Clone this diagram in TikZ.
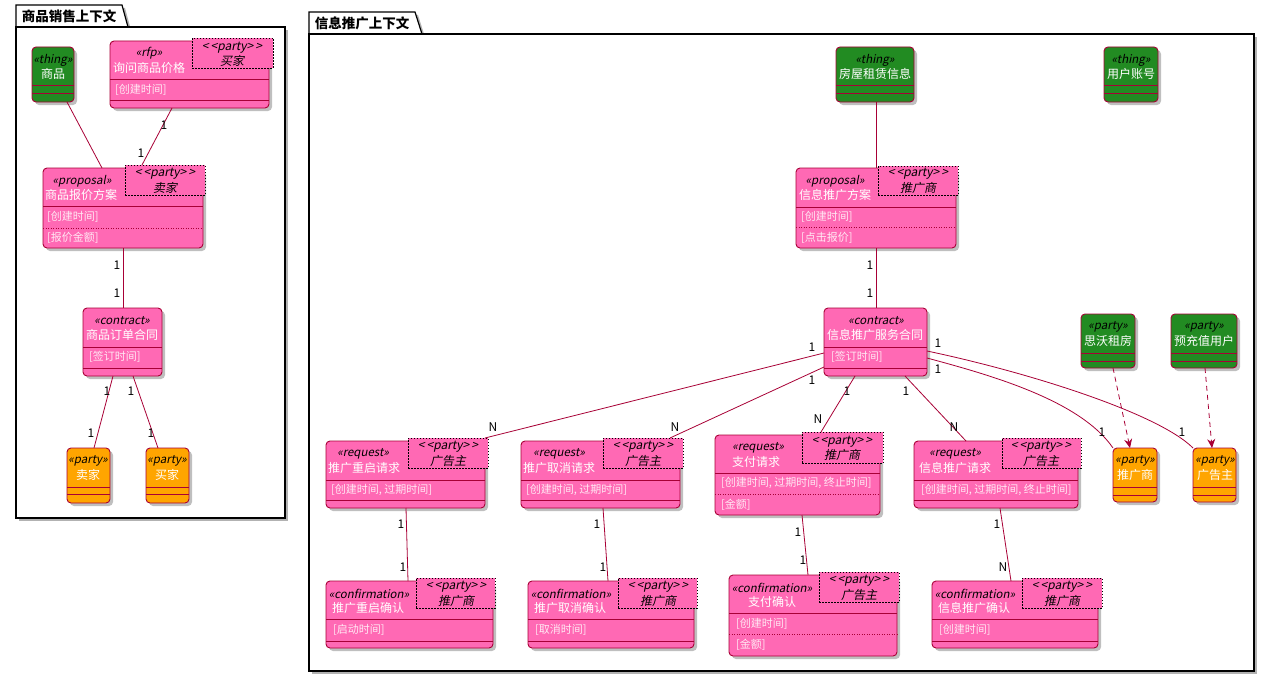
\documentclass[tikz,border=0pt]{standalone}
\usepackage{fontspec}
\setmainfont{Noto Sans CJK SC}[ItalicFont={Noto Sans CJK SC},ItalicFeatures={FakeSlant=0.2}]
\usepackage{tikz}
\usetikzlibrary{shadows,arrows.meta}
\definecolor{umlred}{HTML}{A80036}
\definecolor{umlpink}{HTML}{FF69B4}
\definecolor{umlgreen}{HTML}{228B22}
\definecolor{umlorange}{HTML}{FFA500}
\newcommand\compline[2]{\draw[umlred,line width=0.8pt] ([yshift=-#2pt]#1.north west) -- ([yshift=-#2pt]#1.north east);}
\newcommand\dotline[2]{\draw[umlred,line width=0.5pt,dash pattern=on 1pt off 1.5pt] ([yshift=-#2pt]#1.north west) -- ([yshift=-#2pt]#1.north east);}
\newcommand\partytag{<\,<party>\,>}

\begin{document}
\begin{tikzpicture}[x=1pt,y=-1pt,
	cls/.style={draw=umlred,line width=0.9pt,rounded corners=4pt,anchor=north west,inner sep=0pt,outer sep=0pt,
		drop shadow={shadow xshift=3pt,shadow yshift=-3pt,fill=black,opacity=0.25}},
	pinkcls/.style={cls,fill=umlpink},
	greencls/.style={cls,fill=umlgreen},
	orangecls/.style={cls,fill=umlorange},
	tagbox/.style={draw=black,line width=0.6pt,dash pattern=on 1.5pt off 1.5pt,fill=umlpink,anchor=north west,inner sep=0pt,outer sep=0pt},
	stereo/.style={inner sep=0pt,font=\fontsize{11.5}{13}\selectfont\itshape},
	cname/.style={inner sep=0pt,text=white,font=\fontsize{12}{14}\selectfont},
	attr/.style={inner sep=0pt,anchor=west,text=white!85!umlpink,font=\fontsize{11}{12}\selectfont},
	tagtxt/.style={inner sep=0pt,font=\fontsize{12}{13}\selectfont\itshape},
	mult/.style={inner sep=0pt,font=\fontsize{12}{14}\selectfont},
	link/.style={draw=umlred,line width=0.8pt},
	dep/.style={link,dash pattern=on 5pt off 4pt,-{Stealth[length=9pt,width=8pt,inset=3pt]}},
	pkgline/.style={draw=black,line width=1.2pt,fill=white,drop shadow={shadow xshift=3pt,shadow yshift=-3pt,fill=black,opacity=0.3}},
	pkgtitle/.style={inner sep=0pt,font=\fontsize{13.5}{15}\selectfont\bfseries}]
	\useasboundingbox (0,0) rectangle (1268,677);

	% packages
	\draw[pkgline] (16,27) -- (16,5) -- (122,5) -- (128,27) -- cycle;
	\draw[pkgline] (16,27) rectangle (285,518);
	\node[pkgtitle] (salectx) at (69,16) {商品销售上下文};
	\draw[pkgline] (309,34) -- (309,12) -- (415,12) -- (422,34) -- cycle;
	\draw[pkgline] (309,34) rectangle (1254,671);
	\node[pkgtitle] (adctx) at (362,23) {信息推广上下文};

	% 商品销售上下文
	\node[greencls,minimum width=42pt,minimum height=55pt] (goods) at (32,47) {};
	\compline{goods}{38} \compline{goods}{46}
	\node[stereo] (goods-s) at (53,60) {«thing»};
	\node[cname] (goods-n) at (53,74) {商品};

	\node[pinkcls,minimum width=159pt,minimum height=67pt] (rfp) at (110,41) {};
	\compline{rfp}{38} \compline{rfp}{59}
	\node[tagbox,minimum width=81pt,minimum height=30pt] (rfp-t) at (192,38) {};
	\node[tagtxt] (rfp-t1) at (232,48) {\partytag};
	\node[tagtxt] (rfp-t2) at (232,61) {买家};
	\node[stereo] (rfp-s) at (149,53) {«rfp»};
	\node[cname] (rfp-n) at (149,68) {询问商品价格};
	\node[attr] (rfp-a) at (115,90) {[创建时间]};

	\node[pinkcls,minimum width=160pt,minimum height=80pt] (lprop) at (43,168) {};
	\compline{lprop}{38} \dotline{lprop}{60}
	\node[tagbox,minimum width=80pt,minimum height=30pt] (lprop-t) at (125,165) {};
	\node[tagtxt] (lprop-t1) at (165,174) {\partytag};
	\node[tagtxt] (lprop-t2) at (165,188) {卖家};
	\node[stereo] (lprop-s) at (82,181) {«proposal»};
	\node[cname] (lprop-n) at (81,195) {商品报价方案};
	\node[attr] (lprop-a) at (47,217) {[创建时间]};
	\node[attr] (lprop-b) at (47,238) {[报价金额]};

	\node[pinkcls,minimum width=79pt,minimum height=68pt] (lcon) at (83,308) {};
	\compline{lcon}{39} \compline{lcon}{60}
	\node[stereo] (lcon-s) at (122,321) {«contract»};
	\node[cname] (lcon-n) at (122,335) {商品订单合同};
	\node[attr] (lcon-a) at (89,357) {[签订时间]};

	\node[orangecls,minimum width=43pt,minimum height=55pt] (seller) at (67,448) {};
	\compline{seller}{39} \compline{seller}{46}
	\node[stereo] (seller-s) at (88,461) {«party»};
	\node[cname] (seller-n) at (88,475) {卖家};

	\node[orangecls,minimum width=43pt,minimum height=55pt] (buyer) at (146,448) {};
	\compline{buyer}{39} \compline{buyer}{46}
	\node[stereo] (buyer-s) at (167,461) {«party»};
	\node[cname] (buyer-n) at (167,475) {买家};

	\draw[link] ([xshift=35pt]goods.south west) -- ([xshift=59pt]lprop.north west);
	\draw[link] ([xshift=62pt]rfp.south west) -- ([xshift=17pt]lprop-t.north west);
	\node[mult] (m1) at (164,125) {1};
	\node[mult] (m2) at (141,153) {1};
	\draw[link] ([xshift=80pt]lprop.south west) -- ([xshift=40pt]lcon.north west);
	\node[mult] (m3) at (117,265) {1};
	\node[mult] (m4) at (117,293) {1};
	\draw[link] ([xshift=30pt]lcon.south west) -- ([xshift=27pt]seller.north west);
	\node[mult] (m5) at (107,391) {1};
	\node[mult] (m6) at (91,433) {1};
	\draw[link] ([xshift=50pt]lcon.south west) -- ([xshift=12pt]buyer.north west);
	\node[mult] (m7) at (131,391) {1};
	\node[mult] (m8) at (151,433) {1};

	% 信息推广上下文
	\node[greencls,minimum width=78pt,minimum height=55pt] (house) at (836,47) {};
	\compline{house}{38} \compline{house}{46}
	\node[stereo] (house-s) at (875,60) {«thing»};
	\node[cname] (house-n) at (875,74) {房屋租赁信息};

	\node[greencls,minimum width=54pt,minimum height=55pt] (account) at (1104,47) {};
	\compline{account}{38} \compline{account}{46}
	\node[stereo] (account-s) at (1131,60) {«thing»};
	\node[cname] (account-n) at (1131,74) {用户账号};

	\node[pinkcls,minimum width=160pt,minimum height=80pt] (rprop) at (796,168) {};
	\compline{rprop}{39} \dotline{rprop}{59}
	\node[tagbox,minimum width=80pt,minimum height=29pt] (rprop-t) at (878,166) {};
	\node[tagtxt] (rprop-t1) at (918,174) {\partytag};
	\node[tagtxt] (rprop-t2) at (918,188) {推广商};
	\node[stereo] (rprop-s) at (835,181) {«proposal»};
	\node[cname] (rprop-n) at (835,195) {信息推广方案};
	\node[attr] (rprop-a) at (801,217) {[创建时间]};
	\node[attr] (rprop-b) at (801,238) {[点击报价]};

	\node[pinkcls,minimum width=103pt,minimum height=68pt] (rcon) at (824,308) {};
	\compline{rcon}{39} \compline{rcon}{60}
	\node[stereo] (rcon-s) at (876,321) {«contract»};
	\node[cname] (rcon-n) at (875,335) {信息推广服务合同};
	\node[attr] (rcon-a) at (831,357) {[签订时间]};

	\node[greencls,minimum width=54pt,minimum height=54pt] (swrent) at (1081,314) {};
	\compline{swrent}{39} \compline{swrent}{47}
	\node[stereo] (swrent-s) at (1108,327) {«party»};
	\node[cname] (swrent-n) at (1108,341) {思沃租房};

	\node[greencls,minimum width=66pt,minimum height=54pt] (prepaid) at (1171,314) {};
	\compline{prepaid}{39} \compline{prepaid}{47}
	\node[stereo] (prepaid-s) at (1204,327) {«party»};
	\node[cname] (prepaid-n) at (1204,341) {预充值用户};

	\node[orangecls,minimum width=44pt,minimum height=54pt] (promoter) at (1113,448) {};
	\compline{promoter}{39} \compline{promoter}{47}
	\node[stereo] (promoter-s) at (1135,461) {«party»};
	\node[cname] (promoter-n) at (1135,475) {推广商};

	\node[orangecls,minimum width=43pt,minimum height=54pt] (adver) at (1193,448) {};
	\compline{adver}{39} \compline{adver}{47}
	\node[stereo] (adver-s) at (1215,461) {«party»};
	\node[cname] (adver-n) at (1215,475) {广告主};

	\node[pinkcls,minimum width=159pt,minimum height=67pt] (restartreq) at (326,441) {};
	\compline{restartreq}{39} \compline{restartreq}{59}
	\node[tagbox,minimum width=80pt,minimum height=30pt] (restartreq-t) at (408,438) {};
	\node[tagtxt] (restartreq-t1) at (448,447) {\partytag};
	\node[tagtxt] (restartreq-t2) at (448,461) {广告主};
	\node[stereo] (restartreq-s) at (363,454) {«request»};
	\node[cname] (restartreq-n) at (364,468) {推广重启请求};
	\node[attr] (restartreq-a) at (331,490) {[创建时间, 过期时间]};

	\node[pinkcls,minimum width=159pt,minimum height=67pt] (cancelreq) at (521,441) {};
	\compline{cancelreq}{39} \compline{cancelreq}{59}
	\node[tagbox,minimum width=80pt,minimum height=30pt] (cancelreq-t) at (603,438) {};
	\node[tagtxt] (cancelreq-t1) at (643,447) {\partytag};
	\node[tagtxt] (cancelreq-t2) at (643,461) {广告主};
	\node[stereo] (cancelreq-s) at (559,454) {«request»};
	\node[cname] (cancelreq-n) at (559,468) {推广取消请求};
	\node[attr] (cancelreq-a) at (526,490) {[创建时间, 过期时间]};

	\node[pinkcls,minimum width=165pt,minimum height=80pt] (payreq) at (715,435) {};
	\compline{payreq}{38} \dotline{payreq}{59}
	\node[tagbox,minimum width=81pt,minimum height=31pt] (payreq-t) at (802,432) {};
	\node[tagtxt] (payreq-t1) at (842,442) {\partytag};
	\node[tagtxt] (payreq-t2) at (842,455) {推广商};
	\node[stereo] (payreq-s) at (758,448) {«request»};
	\node[cname] (payreq-n) at (756,462) {支付请求};
	\node[attr] (payreq-a) at (721,483) {[创建时间, 过期时间, 终止时间]};
	\node[attr] (payreq-b) at (721,505) {[金额]};

	\node[pinkcls,minimum width=164pt,minimum height=67pt] (adreq) at (914,441) {};
	\compline{adreq}{39} \compline{adreq}{59}
	\node[tagbox,minimum width=79pt,minimum height=30pt] (adreq-t) at (1002,438) {};
	\node[tagtxt] (adreq-t1) at (1041,447) {\partytag};
	\node[tagtxt] (adreq-t2) at (1041,461) {广告主};
	\node[stereo] (adreq-s) at (955,454) {«request»};
	\node[cname] (adreq-n) at (955,468) {信息推广请求};
	\node[attr] (adreq-a) at (921,490) {[创建时间, 过期时间, 终止时间]};

	\node[pinkcls,minimum width=167pt,minimum height=67pt] (restartconf) at (326,581) {};
	\compline{restartconf}{38} \compline{restartconf}{60}
	\node[tagbox,minimum width=79pt,minimum height=30pt] (restartconf-t) at (416,578) {};
	\node[tagtxt] (restartconf-t1) at (456,587) {\partytag};
	\node[tagtxt] (restartconf-t2) at (456,601) {推广商};
	\node[stereo] (restartconf-s) at (369,594) {«confirmation»};
	\node[cname] (restartconf-n) at (368,608) {推广重启确认};
	\node[attr] (restartconf-a) at (333,630) {[启动时间]};

	\node[pinkcls,minimum width=166pt,minimum height=67pt] (cancelconf) at (528,581) {};
	\compline{cancelconf}{38} \compline{cancelconf}{60}
	\node[tagbox,minimum width=79pt,minimum height=30pt] (cancelconf-t) at (618,578) {};
	\node[tagtxt] (cancelconf-t1) at (658,587) {\partytag};
	\node[tagtxt] (cancelconf-t2) at (658,601) {推广商};
	\node[stereo] (cancelconf-s) at (571,594) {«confirmation»};
	\node[cname] (cancelconf-n) at (570,608) {推广取消确认};
	\node[attr] (cancelconf-a) at (535,630) {[取消时间]};

	\node[pinkcls,minimum width=168pt,minimum height=81pt] (payconf) at (729,575) {};
	\compline{payconf}{38} \dotline{payconf}{59}
	\node[tagbox,minimum width=80pt,minimum height=30pt] (payconf-t) at (819,572) {};
	\node[tagtxt] (payconf-t1) at (859,581) {\partytag};
	\node[tagtxt] (payconf-t2) at (859,595) {广告主};
	\node[stereo] (payconf-s) at (772,588) {«confirmation»};
	\node[cname] (payconf-n) at (772,602) {支付确认};
	\node[attr] (payconf-a) at (736,624) {[创建时间]};
	\node[attr] (payconf-b) at (736,645) {[金额]};

	\node[pinkcls,minimum width=166pt,minimum height=67pt] (adconf) at (932,581) {};
	\compline{adconf}{38} \compline{adconf}{60}
	\node[tagbox,minimum width=80pt,minimum height=30pt] (adconf-t) at (1022,578) {};
	\node[tagtxt] (adconf-t1) at (1062,587) {\partytag};
	\node[tagtxt] (adconf-t2) at (1062,601) {推广商};
	\node[stereo] (adconf-s) at (975,594) {«confirmation»};
	\node[cname] (adconf-n) at (974,608) {信息推广确认};
	\node[attr] (adconf-a) at (939,630) {[创建时间]};

	\draw[link] ([xshift=40pt]house.south west) -- ([xshift=80pt]rprop.north west);
	\draw[link] ([xshift=80pt]rprop.south west) -- ([xshift=52pt]rcon.north west);
	\node[mult] (m9) at (870,265) {1};
	\node[mult] (m10) at (870,293) {1};
	\draw[link] ([yshift=-45pt]rcon.north west) -- ([xshift=-3pt]restartreq-t.north east);
	\node[mult] (m11) at (812,347) {1};
	\node[mult] (m12) at (493,427) {N};
	\draw[link] ([yshift=-59pt]rcon.north west) -- ([xshift=-13pt]cancelreq-t.north east);
	\node[mult] (m13) at (812,380) {1};
	\node[mult] (m14) at (675,427) {N};
	\draw[link] ([xshift=31pt]rcon.south west) -- ([xshift=19pt]payreq-t.north west);
	\node[mult] (m15) at (847,391) {1};
	\node[mult] (m16) at (818,419) {N};
	\draw[link] ([xshift=81pt]rcon.south west) -- ([xshift=52pt]adreq.north west);
	\node[mult] (m17) at (906,391) {1};
	\node[mult] (m18) at (954,427) {N};
	\draw[link] ([yshift=-43pt]rcon.north east) .. controls +(100,21) and +(-35,-35) .. (adver.north west);
	\node[mult] (m19) at (938,343) {1};
	\node[mult] (m20) at (1182,432) {1};
	\draw[link] ([yshift=-50pt]rcon.north east) .. controls +(63,17) and +(-33,-48) .. (promoter.north west);
	\node[mult] (m21) at (938,369) {1};
	\node[mult] (m22) at (1102,432) {1};
	\draw[dep] ([xshift=32pt]swrent.south west) -- ([xshift=17pt]promoter.north west);
	\draw[dep] ([xshift=34pt]prepaid.south west) -- ([xshift=19pt]adver.north west);

	\draw[link] ([xshift=80pt]restartreq.south west) -- ([xshift=82pt]restartconf.north west);
	\node[mult] (m23) at (401,524) {1};
	\node[mult] (m24) at (403,567) {1};
	\draw[link] ([xshift=82pt]cancelreq.south west) -- ([xshift=80pt]cancelconf.north west);
	\node[mult] (m25) at (597,524) {1};
	\node[mult] (m26) at (603,567) {1};
	\draw[link] ([xshift=87pt]payreq.south west) -- ([xshift=79pt]payconf.north west);
	\node[mult] (m27) at (798,532) {1};
	\node[mult] (m28) at (803,560) {1};
	\draw[link] ([xshift=86pt]adreq.south west) -- ([xshift=79pt]adconf.north west);
	\node[mult] (m29) at (997,524) {1};
	\node[mult] (m30) at (1003,567) {N};
\end{tikzpicture}
\end{document}
